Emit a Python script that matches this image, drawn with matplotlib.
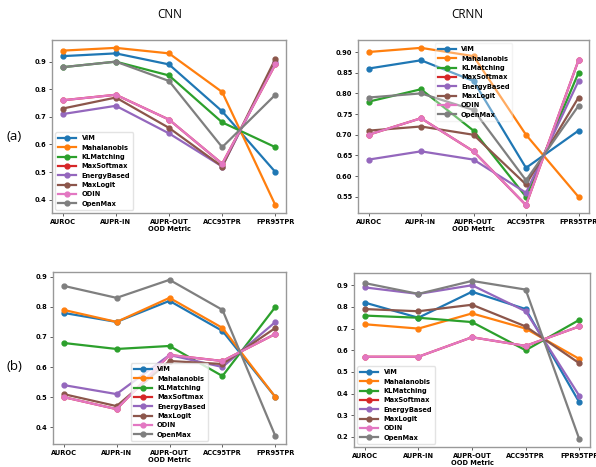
import matplotlib
matplotlib.use("Agg")
import matplotlib.pyplot as plt

metrics = ["AUROC", "AUPR-IN", "AUPR-OUT", "ACC95TPR", "FPR95TPR"]
methods = ["ViM", "Mahalanobis", "KLMatching", "MaxSoftmax", "EnergyBased", "MaxLogit", "ODIN", "OpenMax"]
colors = ["#1f77b4", "#ff7f0e", "#2ca02c", "#d62728", "#9467bd", "#8c564b", "#e377c2", "#7f7f7f"]

# (a) CNN
a_cnn_vim = [0.92, 0.93, 0.89, 0.72, 0.50]
a_cnn_maha = [0.94, 0.95, 0.93, 0.79, 0.38]
a_cnn_kl = [0.88, 0.90, 0.85, 0.68, 0.59]
a_cnn_msp = [0.76, 0.78, 0.69, 0.53, 0.89]
a_cnn_energy = [0.71, 0.74, 0.64, 0.52, 0.90]
a_cnn_maxlogit = [0.73, 0.77, 0.66, 0.52, 0.91]
a_cnn_odin = [0.76, 0.78, 0.69, 0.53, 0.89]
a_cnn_openmax = [0.88, 0.90, 0.83, 0.59, 0.78]

# (a) CRNN
a_crnn_vim = [0.86, 0.88, 0.83, 0.62, 0.71]
a_crnn_maha = [0.90, 0.91, 0.89, 0.70, 0.55]
a_crnn_kl = [0.78, 0.81, 0.71, 0.55, 0.85]
a_crnn_msp = [0.70, 0.74, 0.66, 0.53, 0.88]
a_crnn_energy = [0.64, 0.66, 0.64, 0.56, 0.83]
a_crnn_maxlogit = [0.71, 0.72, 0.70, 0.58, 0.79]
a_crnn_odin = [0.70, 0.74, 0.66, 0.53, 0.88]
a_crnn_openmax = [0.79, 0.80, 0.76, 0.59, 0.77]

# (b) CNN
b_cnn_vim = [0.78, 0.75, 0.82, 0.72, 0.50]
b_cnn_maha = [0.79, 0.75, 0.83, 0.73, 0.50]
b_cnn_kl = [0.68, 0.66, 0.67, 0.57, 0.80]
b_cnn_msp = [0.50, 0.46, 0.64, 0.62, 0.71]
b_cnn_energy = [0.54, 0.51, 0.64, 0.60, 0.75]
b_cnn_maxlogit = [0.51, 0.47, 0.62, 0.61, 0.73]
b_cnn_odin = [0.50, 0.46, 0.64, 0.62, 0.71]
b_cnn_openmax = [0.87, 0.83, 0.89, 0.79, 0.37]

# (b) CRNN
b_crnn_vim = [0.82, 0.75, 0.87, 0.79, 0.36]
b_crnn_maha = [0.72, 0.70, 0.77, 0.70, 0.56]
b_crnn_kl = [0.76, 0.75, 0.73, 0.60, 0.74]
b_crnn_msp = [0.57, 0.57, 0.66, 0.62, 0.71]
b_crnn_energy = [0.89, 0.86, 0.90, 0.78, 0.39]
b_crnn_maxlogit = [0.79, 0.78, 0.81, 0.71, 0.54]
b_crnn_odin = [0.57, 0.57, 0.66, 0.62, 0.71]
b_crnn_openmax = [0.91, 0.86, 0.92, 0.88, 0.19]

panels = [
    ([a_cnn_vim, a_cnn_maha, a_cnn_kl, a_cnn_msp, a_cnn_energy, a_cnn_maxlogit, a_cnn_odin, a_cnn_openmax],
     (52, 40, 286, 213), dict(loc="lower left")),
    ([a_crnn_vim, a_crnn_maha, a_crnn_kl, a_crnn_msp, a_crnn_energy, a_crnn_maxlogit, a_crnn_odin, a_crnn_openmax],
     (358, 40, 589, 213), dict(loc="upper center", framealpha=0.35)),
    ([b_cnn_vim, b_cnn_maha, b_cnn_kl, b_cnn_msp, b_cnn_energy, b_cnn_maxlogit, b_cnn_odin, b_cnn_openmax],
     (53, 272, 286, 444), dict(loc="lower center")),
    ([b_crnn_vim, b_crnn_maha, b_crnn_kl, b_crnn_msp, b_crnn_energy, b_crnn_maxlogit, b_crnn_odin, b_crnn_openmax],
     (354, 273, 590, 447), dict(loc="lower left")),
]

W, H = 596, 467
fig = plt.figure(figsize=(W / 100, H / 100), dpi=100)
FS = 4.8

for series, (x0, y0, x1, y1), legkw in panels:
    ax = fig.add_axes([x0 / W, 1 - y1 / H, (x1 - x0) / W, (y1 - y0) / H])
    for name, col, vals in zip(methods, colors, series):
        ax.plot(metrics, vals, marker="o", color=col, label=name, lw=1.6, ms=3.5)
    for lbl in ax.get_xticklabels() + ax.get_yticklabels():
        lbl.set_fontweight("bold")
    ax.tick_params(labelsize=FS, length=2, width=0.6, pad=2, color="#444")
    ax.set_xlabel("OOD Metric", fontsize=FS, fontweight="bold", labelpad=1)
    for sp in ax.spines.values():
        sp.set_color("#999999")
        sp.set_linewidth(1.0)
    ax.legend(prop=dict(size=FS, weight="bold"), handlelength=2.7, labelspacing=0.5,
              borderpad=0.45, edgecolor="#dddddd", **legkw)

fig.text(170 / W, 1 - 15 / H, "CNN", ha="center", va="center", fontsize=8.5, family="Open Sans")
fig.text(467 / W, 1 - 15 / H, "CRNN", ha="center", va="center", fontsize=8.5, family="Open Sans")
fig.text(14 / W, 1 - 137 / H, "(a)", ha="center", va="center", fontsize=9.5, family="Open Sans")
fig.text(14 / W, 1 - 366 / H, "(b)", ha="center", va="center", fontsize=9.5, family="Open Sans")

fig.savefig("out.png", dpi=100)
